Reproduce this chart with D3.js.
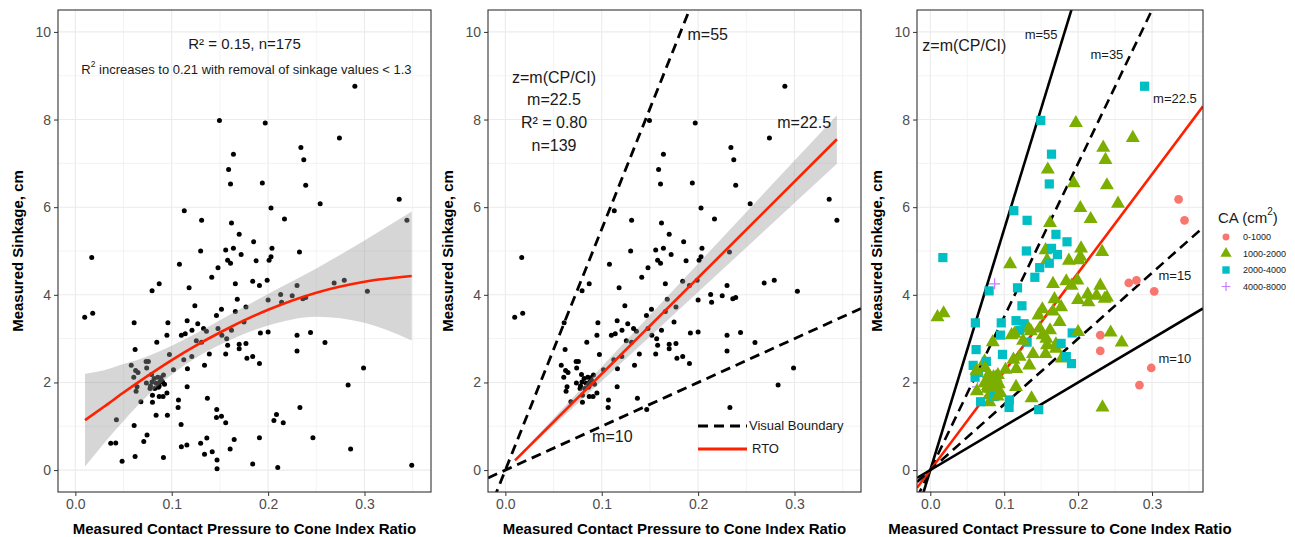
<!DOCTYPE html>
<html>
<head>
<meta charset="utf-8">
<script src="https://cdn.jsdelivr.net/npm/d3@7"></script>
<style>
  body { margin: 0; background: #fff; }
  text { font-family: "Liberation Sans", Arial, sans-serif; }
</style>
</head>
<body>
<div id="chart"></div>
<script>
// ---- data ----
// measured contact pressure / cone index ratio
const ratio = [0.290,0.1495,0.197,0.274,0.234,0.164,0.237,0.159,0.161,0.194,0.239,0.336,0.254,0.203,0.113,0.344,0.131,0.162,0.217,0.170,
  0.185,0.130,0.156,0.164,0.204,0.2325,0.172,0.017,0.158,0.161,0.1875,0.203,0.201,0.108,0.148,0.1415,0.087,0.0796,0.118,0.166,
  0.184,0.191,0.199,0.168,0.124,0.0097,0.018,0.061,0.096,0.116,0.127,0.133,0.136,0.121,0.114,0.110,0.095,0.148,0.152,0.157,
  0.177,0.166,0.175,0.162,0.158,0.170,0.170,0.177,0.156,0.139,0.131,0.178,0.184,0.191,0.192,0.200,0.200,0.213,0.214,0.225,
  0.230,0.236,0.239,0.2685,0.279,0.303,0.230,0.244,0.230,0.259,0.299,0.283,0.233,0.062,0.058,0.065,0.0606,0.064,0.063,0.0737,
  0.0734,0.0758,0.0845,0.0817,0.0886,0.0914,0.0838,0.0876,0.0893,0.0862,0.0824,0.0775,0.080,0.080,0.087,0.091,0.095,0.068,0.0976,0.1018,
  0.1125,0.1208,0.1163,0.134,0.116,0.137,0.107,0.1066,0.0838,0.0955,0.0426,0.061,0.0744,0.071,0.0367,0.0419,0.0485,0.062,0.0914,0.1097,
  0.110,0.1157,0.130,0.1364,0.134,0.142,0.1467,0.1464,0.1516,0.156,0.147,0.147,0.1606,0.1648,0.184,0.191,0.2087,0.206,0.2157,0.210,
  0.2465,0.2856,0.349,0.1516,0.1464,0.0625,0.074,0.0795,0.0855,0.0925,0.0870,0.0780,0.0905,0.1255,0.079];
// measured sinkage, cm
const sinkage = [8.76,7.98,7.92,7.58,7.36,7.21,7.08,6.86,6.53,6.55,6.50,6.18,6.08,5.98,5.92,5.70,5.70,5.64,5.73,5.38,
  5.21,5.00,5.02,5.06,5.06,4.98,4.92,4.85,4.79,4.72,4.78,4.87,4.79,4.70,4.62,4.40,4.25,4.09,4.16,4.25,
  4.31,4.21,4.33,3.90,3.75,3.49,3.58,3.36,3.36,3.41,3.34,3.23,3.17,3.19,3.11,3.08,3.08,3.23,3.08,3.00,
  3.72,3.62,3.38,3.19,2.85,2.87,2.77,2.89,2.65,2.65,2.92,2.55,2.59,2.43,3.13,3.15,3.88,4.01,3.83,3.98,
  4.21,3.91,3.94,4.27,4.33,4.08,3.08,3.14,2.72,2.91,2.33,1.94,1.43,2.75,2.39,2.23,2.12,1.90,1.80,1.99,
  2.48,2.48,2.92,2.09,2.11,2.17,1.98,2.01,2.05,1.89,1.86,1.86,1.71,1.55,1.68,1.68,1.76,1.56,2.64,2.29,
  2.52,2.59,2.31,2.39,1.90,1.64,1.60,1.43,1.25,1.25,1.15,1.02,0.80,0.65,0.61,0.62,0.20,0.31,0.29,1.04,
  0.53,0.57,0.61,0.73,0.36,0.42,1.38,1.20,1.23,1.08,0.23,0.03,0.48,0.70,0.14,0.74,1.27,1.13,1.08,0.06,
  0.74,0.48,0.11,3.67,3.53,2.27,2.33,2.01,2.12,1.96,1.92,1.92,2.01,2.95,2.18];
// contact area class (index into caLevels)
const caLevels = ["0-1000", "1000-2000", "2000-4000", "4000-8000"];
const caClass = [2,2,1,1,1,2,1,1,2,1,1,0,1,1,2,0,2,1,1,2,
  2,2,1,2,1,1,2,2,1,2,1,1,1,1,2,2,3,2,2,1,
  1,1,1,1,2,1,1,2,2,2,2,1,1,2,1,1,2,1,1,1,
  1,1,1,1,1,1,1,2,1,1,2,1,2,2,2,1,1,1,1,1,
  1,1,1,0,0,0,0,1,0,1,0,0,1,2,2,2,2,3,1,1,
  1,2,1,1,1,1,1,1,1,1,1,1,1,1,2,1,1,2,2,1,
  1,1,1,1,1,1,2,2,1,1,1,1,1,1,1,1,1,1,1,1,
  1,1,1,1,1,1,2,1,1,1,1,1,1,1,1,1,1,1,1,1,
  1,1,1,1,1,1,1,1,1,1,1,1,1,1,1];
const sinkCutoff = 1.3;

// panel 1 quadratic fit and its confidence band
const fitX  = [0.01, 0.03, 0.05, 0.075, 0.10, 0.125, 0.15, 0.20, 0.25, 0.30, 0.349];
const fitY  = [1.14, 1.45, 1.77, 2.15, 2.51, 2.84, 3.14, 3.66, 4.05, 4.30, 4.43];
const fitLo = [0.08, 0.62, 1.12, 1.70, 2.18, 2.56, 2.86, 3.30, 3.50, 3.36, 2.96];
const fitHi = [2.20, 2.28, 2.42, 2.60, 2.84, 3.12, 3.42, 4.02, 4.60, 5.24, 5.90];

// panel 2 regression through origin and band
const rtoX  = [0.01, 0.344];
const rtoY  = [0.22, 7.55];
const rtoLo = [0.20, 6.99];
const rtoHi = [0.24, 8.10];

// boundary slopes
const p2Slopes = [55, 10];
const p3Slopes = [55, 35, 22.5, 15, 10];
const p3Kinds  = ["solid", "dashed", "fit", "dashed", "solid"];

const xTicks = [0, 0.1, 0.2, 0.3];
const xMinor = [0.05, 0.15, 0.25, 0.35];
const yTicks = [0, 2, 4, 6, 8, 10];
const yMinor = [1, 3, 5, 7, 9];

// ---- layout ----
const width = 1295, height = 537;
const plotTop = 10, plotBottom = 492;
const xDomain = [-0.018, 0.369], yDomain = [-0.5, 10.5];
const panels = [{ left: 58, right: 431 }, { left: 488, right: 861 }, { left: 917, right: 1203 }];
const caColor = ["#F8766D", "#7CAE00", "#00BFC4", "#C77CFF"];

const svg = d3.select("#chart").append("svg")
  .attr("width", width).attr("height", height);

const pts = ratio.map((x, i) => ({ x, y: sinkage[i], ca: caClass[i] }));
const kept = pts.filter(d => d.y >= sinkCutoff);

function makePanel(i) {
  const p = panels[i];
  const x = d3.scaleLinear().domain(xDomain).range([p.left, p.right]);
  const y = d3.scaleLinear().domain(yDomain).range([plotBottom, plotTop]);
  const g = svg.append("g");

  g.append("clipPath").attr("id", "clip" + i)
    .append("rect").attr("x", p.left).attr("y", plotTop)
    .attr("width", p.right - p.left).attr("height", plotBottom - plotTop);

  const grid = g.append("g");
  grid.selectAll(".vmin").data(xMinor).join("line")
    .attr("x1", d => x(d)).attr("x2", d => x(d)).attr("y1", plotTop).attr("y2", plotBottom)
    .attr("stroke", "#ebebeb").attr("stroke-width", 0.6);
  grid.selectAll(".hmin").data(yMinor).join("line")
    .attr("y1", d => y(d)).attr("y2", d => y(d)).attr("x1", p.left).attr("x2", p.right)
    .attr("stroke", "#ebebeb").attr("stroke-width", 0.6);
  grid.selectAll(".vmaj").data(xTicks).join("line")
    .attr("x1", d => x(d)).attr("x2", d => x(d)).attr("y1", plotTop).attr("y2", plotBottom)
    .attr("stroke", "#ebebeb").attr("stroke-width", 1.1);
  grid.selectAll(".hmaj").data(yTicks).join("line")
    .attr("y1", d => y(d)).attr("y2", d => y(d)).attr("x1", p.left).attr("x2", p.right)
    .attr("stroke", "#ebebeb").attr("stroke-width", 1.1);

  const plot = g.append("g").attr("clip-path", `url(#clip${i})`);

  // axes
  const ax = g.append("g").attr("transform", `translate(0,${plotBottom})`)
    .call(d3.axisBottom(x).tickValues(xTicks).tickFormat(d3.format(".1f")).tickSize(4).tickPadding(3));
  const ay = g.append("g").attr("transform", `translate(${p.left},0)`)
    .call(d3.axisLeft(y).tickValues(yTicks).tickSize(4).tickPadding(3));
  [ax, ay].forEach(a => {
    a.select(".domain").remove();
    a.selectAll(".tick line").attr("stroke", "#333");
    a.selectAll(".tick text").attr("fill", "#4d4d4d").style("font-size", "14px")
      .style("font-family", "'Liberation Sans', Arial, sans-serif");
  });

  g.append("text")
    .attr("x", (p.left + p.right) / 2).attr("y", 534)
    .attr("text-anchor", "middle").style("font-size", "15px").style("font-weight", "bold")
    .text("Measured Contact Pressure to Cone Index Ratio");
  g.append("text")
    .attr("transform", `translate(${p.left - 40},${(plotTop + plotBottom) / 2}) rotate(-90)`)
    .attr("text-anchor", "middle").attr("dy", "0.35em")
    .style("font-size", "15px").style("font-weight", "bold")
    .text("Measured Sinkage, cm");

  return { g, plot, x, y, p };
}

function drawBorder(P) {
  P.g.append("rect").attr("x", P.p.left).attr("y", plotTop)
    .attr("width", P.p.right - P.p.left).attr("height", plotBottom - plotTop)
    .attr("fill", "none").attr("stroke", "#333").attr("stroke-width", 1.1);
}

function note(P, xv, yv, txt, size) {
  return P.g.append("text").attr("x", P.x(xv)).attr("y", P.y(yv))
    .attr("text-anchor", "middle").attr("dominant-baseline", "central")
    .style("font-size", size + "px").attr("fill", "#1a1a1a").text(txt);
}

function originLine(P, m, opts) {
  P.plot.append("line")
    .attr("x1", P.x(xDomain[0])).attr("y1", P.y(m * xDomain[0]))
    .attr("x2", P.x(xDomain[1])).attr("y2", P.y(m * xDomain[1]))
    .attr("stroke", opts.color || "#000").attr("stroke-width", opts.w || 2.4)
    .attr("stroke-dasharray", opts.dash ? "10,6" : null);
}

// ---- panel 1 ----
const P1 = makePanel(0);
P1.plot.selectAll("circle").data(pts).join("circle")
  .attr("cx", d => P1.x(d.x)).attr("cy", d => P1.y(d.y)).attr("r", 2.5).attr("fill", "#000");
const band1 = fitX.map((v, i) => ({ x: v, lo: fitLo[i], hi: fitHi[i], y: fitY[i] }));
P1.plot.append("path").datum(band1)
  .attr("d", d3.area().curve(d3.curveMonotoneX).x(d => P1.x(d.x)).y0(d => P1.y(d.lo)).y1(d => P1.y(d.hi)))
  .attr("fill", "#999").attr("fill-opacity", 0.4);
P1.plot.append("path").datum(band1)
  .attr("d", d3.line().curve(d3.curveMonotoneX).x(d => P1.x(d.x)).y(d => P1.y(d.y)))
  .attr("fill", "none").attr("stroke", "#ff2000").attr("stroke-width", 2.6);
drawBorder(P1);
note(P1, 0.1755, 9.73, "R² = 0.15, n=175", 15);
const t1 = note(P1, 0.1775, 9.16, "", 13);
t1.append("tspan").text("R");
t1.append("tspan").attr("baseline-shift", "super").style("font-size", "8.5px").text("2");
t1.append("tspan").text(" increases to 0.21 with removal of sinkage values < 1.3");

// ---- panel 2 ----
const P2 = makePanel(1);
P2.plot.selectAll("circle").data(kept).join("circle")
  .attr("cx", d => P2.x(d.x)).attr("cy", d => P2.y(d.y)).attr("r", 2.5).attr("fill", "#000");
p2Slopes.forEach(m => originLine(P2, m, { dash: true, w: 2.8 }));
const band2 = rtoX.map((v, i) => ({ x: v, lo: rtoLo[i], hi: rtoHi[i], y: rtoY[i] }));
P2.plot.append("path").datum(band2)
  .attr("d", d3.area().x(d => P2.x(d.x)).y0(d => P2.y(d.lo)).y1(d => P2.y(d.hi)))
  .attr("fill", "#999").attr("fill-opacity", 0.4);
P2.plot.append("path").datum(band2)
  .attr("d", d3.line().x(d => P2.x(d.x)).y(d => P2.y(d.y)))
  .attr("fill", "none").attr("stroke", "#ff2000").attr("stroke-width", 2.6);
drawBorder(P2);
note(P2, 0.0505, 8.95, "z=m(CP/CI)", 16);
note(P2, 0.0505, 8.45, "m=22.5", 16);
note(P2, 0.0505, 7.93, "R² = 0.80", 16);
note(P2, 0.0505, 7.41, "n=139", 16);
note(P2, 0.210, 9.95, "m=55", 16);
note(P2, 0.310, 7.93, "m=22.5", 16);
note(P2, 0.111, 0.77, "m=10", 16);
// legend
const lg2 = P2.g.append("g");
[["Visual Boundary", "#000", true, 426], ["RTO", "#ff2000", false, 449]].forEach(([lab, col, dash, yy]) => {
  lg2.append("line").attr("x1", 698).attr("x2", 747).attr("y1", yy).attr("y2", yy)
    .attr("stroke", col).attr("stroke-width", 2.8).attr("stroke-dasharray", dash ? "10,6" : null);
  lg2.append("text").attr("x", dash ? 749 : 752).attr("y", yy - 1).attr("dominant-baseline", "central")
    .style("font-size", "13px").attr("fill", "#1a1a1a").text(lab);
});

// ---- panel 3 ----
const P3 = makePanel(2);
p3Slopes.forEach((m, i) => {
  const k = p3Kinds[i];
  originLine(P3, m, { dash: k === "dashed", color: k === "fit" ? "#ff2000" : "#000", w: 2.6 });
});
const shapeSym = [d3.symbolCircle, d3.symbolTriangle, d3.symbolSquare];
const shapeSize = [60, 85, 85];
function drawShape(sel, ca, scale) {
  if (ca === 3) {
    const s = 5.5 * scale;
    sel.append("path").attr("d", `M${-s},0H${s}M0,${-s}V${s}`)
      .attr("stroke", caColor[3]).attr("stroke-width", 1.2).attr("fill", "none");
  } else {
    sel.append("path").attr("d", d3.symbol().type(shapeSym[ca]).size(shapeSize[ca] * scale * scale)())
      .attr("fill", caColor[ca]);
  }
}
P3.plot.selectAll("g.pt").data(kept).join("g").attr("class", "pt")
  .attr("transform", d => `translate(${P3.x(d.x)},${P3.y(d.y)})`)
  .each(function (d) { drawShape(d3.select(this), d.ca, 1); });
drawBorder(P3);
note(P3, 0.046, 9.68, "z=m(CP/CI)", 16);
note(P3, 0.150, 9.95, "m=55", 13);
note(P3, 0.239, 9.48, "m=35", 13);
note(P3, 0.331, 8.48, "m=22.5", 13);
note(P3, 0.331, 4.45, "m=15", 13);
note(P3, 0.331, 2.55, "m=10", 13);

// legend for contact area
const lg3 = svg.append("g");
const lt = lg3.append("text").attr("x", 1218).attr("y", 217).attr("dominant-baseline", "central")
  .style("font-size", "15px").attr("fill", "#1a1a1a");
lt.append("tspan").text("CA (cm");
lt.append("tspan").attr("baseline-shift", "super").style("font-size", "10px").text("2");
lt.append("tspan").text(")");
caLevels.forEach((lab, i) => {
  const yy = 237 + i * 16.5;
  const k = lg3.append("g").attr("transform", `translate(1226,${yy})`);
  drawShape(k, i, 0.8);
  lg3.append("text").attr("x", 1243).attr("y", yy).attr("dominant-baseline", "central")
    .style("font-size", "9px").attr("fill", "#1a1a1a").text(lab);
});
</script>
</body>
</html>
